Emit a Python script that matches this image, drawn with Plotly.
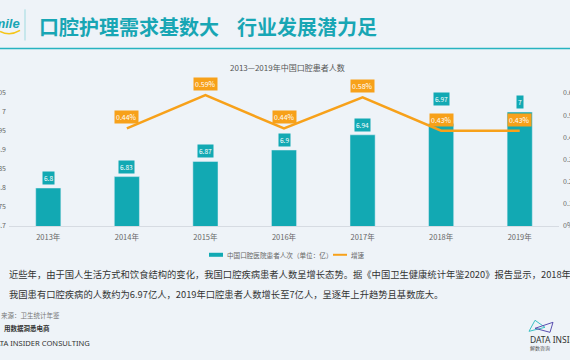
import plotly.graph_objects as go

# ---- data ----
years = ["2013年", "2014年", "2015年", "2016年", "2017年", "2018年", "2019年"]
patients = [6.8, 6.83, 6.87, 6.9, 6.94, 6.97, 7]
patient_labels = ["6.8", "6.83", "6.87", "6.9", "6.94", "6.97", "7"]
growth = [None, 0.44, 0.59, 0.44, 0.58, 0.43, 0.43]
growth_labels = [None, "0.44%", "0.59%", "0.44%", "0.58%", "0.43%", "0.43%"]

chart_title = "2013—2019年中国口腔患者人数"
legend_bar = "中国口腔医院患者人次（单位：亿）"
legend_line = "增速"
header_a = "口腔护理需求基数大"
header_b = "行业发展潜力足"
body_1 = "近些年，由于国人生活方式和饮食结构的变化，我国口腔疾病患者人数呈增长态势。据《中国卫生健康统计年鉴2020》报告显示，2018年"
body_2 = "我国患有口腔疾病的人数约为6.97亿人，2019年口腔患者人数增长至7亿人，呈逐年上升趋势且基数庞大。"
source = "来源：卫生统计年鉴"
slogan = "用数据洞悉电商"
brand = "DATA INSIDER CONSULTING"

TEAL = "#12a9b3"
ORANGE = "#f7a11a"
CJK = "Noto Sans CJK SC, sans-serif"

W, H = 570, 360
L, R, T, B = 9, 11, 93.4, 134


def px(x):
    return (x - L) / (W - L - R)


def py(y):
    return (H - B - y) / (H - T - B)


fig = go.Figure()
fig.add_trace(go.Bar(x=years, y=patients, marker_color=TEAL, name=legend_bar,
                     yaxis="y", showlegend=False))
fig.add_trace(go.Scatter(x=years, y=growth, mode="lines", name=legend_line,
                         line=dict(color=ORANGE, width=2.5), yaxis="y2",
                         connectgaps=False, showlegend=False))

# bar value labels sit above the growth label when the two would collide
raised_bar_label = {"2018年": 14}

ann = []
for yr, v, t in zip(years, patients, patient_labels):
    ann.append(dict(x=yr, y=v, xref="x", yref="y", text=t, showarrow=False,
                    yanchor="bottom", yshift=3 + raised_bar_label.get(yr, 0),
                    bgcolor=TEAL, borderpad=1,
                    font=dict(family=CJK, size=6.5, color="white")))
for yr, v, t in zip(years, growth, growth_labels):
    if v is None:
        continue
    ann.append(dict(x=yr, y=v, xref="x", yref="y2", text=t, showarrow=False,
                    yanchor="bottom", yshift=4, bgcolor=ORANGE, borderpad=1,
                    font=dict(family=CJK, size=7, color="white")))


def txt(x, y, text, size, color, anchor="left", bold=False, family=CJK, italic=False):
    if bold:
        text = "<b>" + text + "</b>"
    if italic:
        text = "<i>" + text + "</i>"
    ann.append(dict(x=px(x), y=py(y), xref="paper", yref="paper", text=text,
                    showarrow=False, xanchor=anchor, yanchor="middle",
                    font=dict(family=family, size=size, color=color)))


# header
txt(37, 27.5, header_a, 20, "#18a6b4", bold=True)
txt(235, 27.5, header_b, 20, "#18a6b4", bold=True)
txt(22, 24, "Smile", 13, "#18a6b4", anchor="right", bold=True, italic=True,
    family="Liberation Sans, Arial, sans-serif")
# chart title
txt(287, 68, chart_title, 8, "#555555", anchor="center")
# legend texts
txt(224.5, 254.7, legend_bar, 6.6, "#666666")
txt(349, 254.7, legend_line, 6.6, "#666666")
# body
txt(7, 274, body_1, 9.3, "#333333")
txt(7, 294, body_2, 9.3, "#333333")
txt(-1, 315, source, 6.5, "#777777")
txt(2, 328, slogan, 6.5, "#333333", bold=True)
txt(-12, 343, brand, 7.6, "#333333", family="Noto Sans, sans-serif")
txt(528, 339, "DATA INSIDER", 8.5, "#333333", family="Noto Sans, sans-serif")
txt(528, 347.5, "解数咨询", 5, "#555555")

shapes = [
    # header lines
    dict(type="line", xref="paper", yref="paper", x0=px(0), x1=px(570), y0=py(49), y1=py(49),
         line=dict(color="#27b3c0", width=1.6)),
    dict(type="line", xref="paper", yref="paper", x0=px(25), x1=px(25), y0=py(10), y1=py(41),
         line=dict(color="#9fdbe0", width=1)),
    # smile swoosh
    dict(type="path", xref="paper", yref="paper",
         path=f"M {px(0)},{py(32)} Q {px(10)},{py(37)} {px(20)},{py(31)}",
         line=dict(color="#f5c518", width=1.6)),
    # legend swatches
    dict(type="rect", xref="paper", yref="paper", x0=px(209), x1=px(223), y0=py(256.7), y1=py(252.7),
         fillcolor=TEAL, line=dict(width=0)),
    dict(type="line", xref="paper", yref="paper", x0=px(333), x1=px(347), y0=py(254.7), y1=py(254.7),
         line=dict(color=ORANGE, width=2)),
    # brand icon
    dict(type="path", xref="paper", yref="paper",
         path=f"M {px(529)},{py(331)} L {px(535)},{py(320)} L {px(545)},{py(327)} Z",
         line=dict(color="#3cc0c4", width=1)),
    dict(type="path", xref="paper", yref="paper",
         path=f"M {px(535)},{py(328)} L {px(553)},{py(322)} L {px(550)},{py(332)} Z",
         line=dict(color="#5a4fb0", width=1)),
]

fig.update_layout(
    width=W, height=H,
    margin=dict(l=L, r=R, t=T, b=B, autoexpand=False),
    paper_bgcolor="#eef3f8", plot_bgcolor="rgba(0,0,0,0)",
    bargap=0.68, showlegend=False,
    font=dict(family=CJK, color="#666666"),
    xaxis=dict(showline=True, linecolor="#d6dbe2", linewidth=1, ticks="",
               ticklabelstandoff=4,
               tickfont=dict(size=7.5, color="#666666"), showgrid=False, automargin=False),
    yaxis=dict(range=[6.7, 7.05], dtick=0.05, tick0=6.7, showgrid=False, zeroline=False,
               showline=False, ticks="", ticklabelstandoff=2,
               tickfont=dict(size=7, color="#666666"), automargin=False),
    yaxis2=dict(range=[0, 0.6], dtick=0.1, tick0=0, overlaying="y", side="right",
                showgrid=False, zeroline=False, showline=False, ticks="", ticksuffix="%",
                ticklabelstandoff=3,
                tickfont=dict(size=7, color="#666666"), automargin=False),
    annotations=ann,
    shapes=shapes,
)

fig.write_html(
    "out.html",
    config={"displayModeBar": False},
    post_script="document.body.style.margin='0';document.body.style.overflow='hidden';",
)
